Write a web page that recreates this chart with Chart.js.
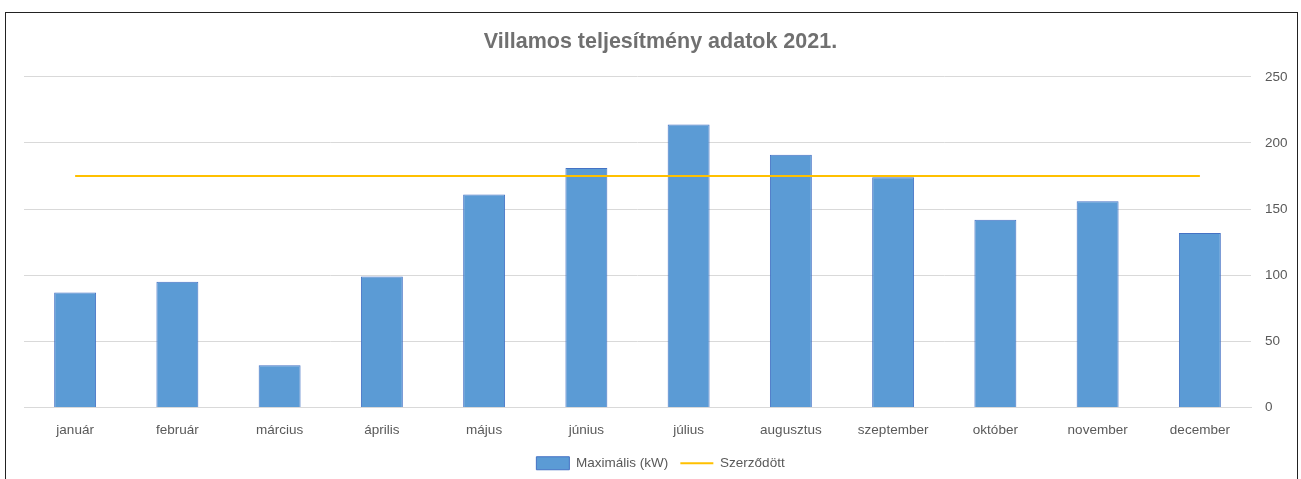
<!DOCTYPE html>
<html>
<head>
<meta charset="utf-8">
<script src="https://cdn.jsdelivr.net/npm/chart.js@4"></script>
<style>
  body { margin: 0; background: #fff; }
  #box {
    position: absolute;
    left: 5px; top: 12px;
    width: 1291px; height: 470px;
    border: 1.5px solid #222;
    background: #fff;
  }
  #box canvas { display: block; }
</style>
</head>
<body>
<div id="box"><canvas id="villamosChart" width="1291" height="467"></canvas></div>
<script>
// Adatok (kW)
const months = ['január', 'február', 'március', 'április', 'május', 'június',
                'július', 'augusztus', 'szeptember', 'október', 'november', 'december'];
const maxPower = [87, 95, 32, 99, 161, 181, 214, 191, 174, 142, 156, 132];
const contracted = [175, 175, 175, 175, 175, 175, 175, 175, 175, 175, 175, 175];
const yTicks = [0, 50, 100, 150, 200, 250];

const fontFamily = '"Liberation Sans", Arial, sans-serif';
const ctx = document.getElementById('villamosChart').getContext('2d');

const chart = new Chart(ctx, {
    data: {
        labels: months,
        datasets: [
            {
                type: 'line',
                label: 'Szerződött',
                data: contracted,
                borderColor: '#FFC000',
                backgroundColor: '#FFC000',
                borderWidth: 2.2,
                pointRadius: 0,
                pointStyle: 'line',
                fill: false,
                order: 0
            },
            {
                type: 'bar',
                label: 'Maximális (kW)',
                data: maxPower,
                backgroundColor: '#5B9BD5',
                borderColor: '#4472C4',
                borderWidth: 1,
                pointStyle: 'rect',
                categoryPercentage: 1,
                barPercentage: 0.41,
                order: 1
            }
        ]
    },
    options: {
        responsive: false,
        animation: false,
        layout: { padding: { left: 18, right: 0, top: 0, bottom: 0 } },
        scales: {
            x: {
                grid: { display: false },
                border: { display: true, color: '#d9d9d9', width: 1 },
                ticks: {
                    color: '#595959',
                    padding: 7,
                    font: { family: fontFamily, size: 13.5 }
                },
                afterFit: scale => { scale.height = 37; }
            },
            y: {
                position: 'right',
                min: 0,
                max: 250,
                afterBuildTicks: scale => { scale.ticks = yTicks.map(v => ({ value: v })); },
                grid: { color: '#d9d9d9', lineWidth: 1, drawTicks: false },
                border: { display: false },
                ticks: {
                    color: '#595959',
                    padding: 14,
                    font: { family: fontFamily, size: 13.5 }
                },
                afterFit: scale => { scale.width = 46; }
            }
        },
        plugins: {
            title: {
                display: true,
                text: 'Villamos teljesítmény adatok 2021.',
                color: '#707070',
                font: { family: fontFamily, size: 21.5, weight: 'bold' },
                padding: { top: 16, bottom: 22 }
            },
            legend: {
                position: 'bottom',
                reverse: true,
                labels: {
                    color: '#595959',
                    font: { family: fontFamily, size: 13.5 },
                    usePointStyle: true,
                    pointStyleWidth: 33,
                    boxHeight: 13,
                    padding: 12
                }
            },
            tooltip: { enabled: false }
        }
    }
});
</script>
</body>
</html>
